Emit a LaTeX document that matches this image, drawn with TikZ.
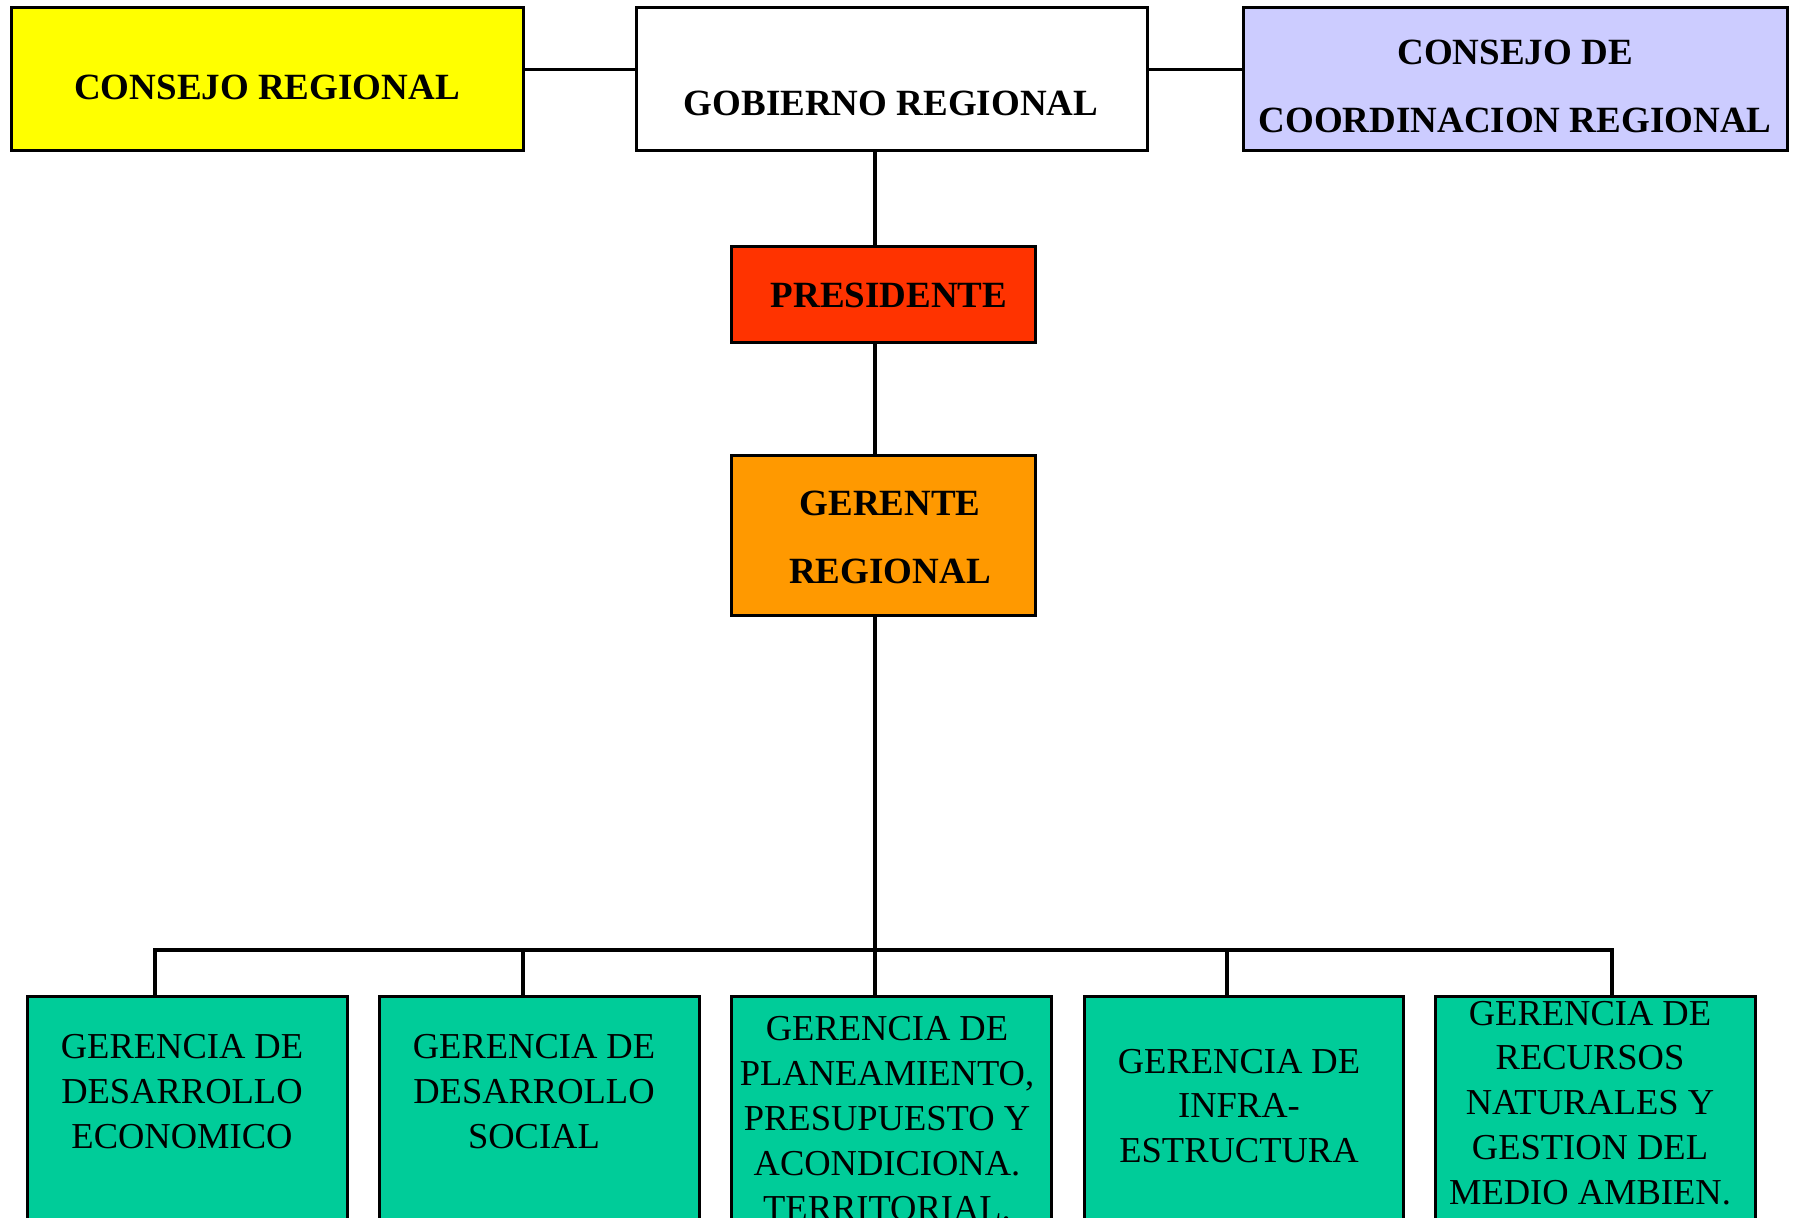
\documentclass[tikz,border=0pt]{standalone}
\usepackage{fontspec}
\setmainfont{Liberation Serif}
\usetikzlibrary{fit}
\definecolor{cyel}{HTML}{FFFF00}
\definecolor{clav}{HTML}{CCCCFF}
\definecolor{cred}{HTML}{FF3300}
\definecolor{cora}{HTML}{FF9900}
\definecolor{cgrn}{HTML}{00CC99}
\tikzset{
  box/.style={rectangle, draw=black, line width=1.5pt, inner sep=0pt, outer sep=0pt},
  conn/.style={draw=black, line width=1.7pt, line join=miter},
  btxt/.style={anchor=base, inner sep=0pt, font=\fontsize{18.5pt}{22.5pt}\selectfont\bfseries},
  gtxt/.style={anchor=base, inner sep=0pt, font=\fontsize{18.25pt}{22.5pt}\selectfont}
}
\begin{document}
\begin{tikzpicture}[x=0.5pt, y=-0.5pt]
\useasboundingbox (0,0) rectangle (1796,1217);
\clip (0,0) rectangle (1796,1217);
% top row
\node[box, fill=cyel, fit={(11,7) (523,150)}] (cr) {};
\node[box, fill=white, fit={(636,7) (1147,150)}] (gob) {};
\node[box, fill=clav, fit={(1243,7) (1787,150)}] (ccr) {};
\node[box, fill=cred, fit={(731,246) (1035,342)}] (pres) {};
\node[box, fill=cora, fit={(731,455) (1035,615)}] (ger) {};
% bottom row
\node[box, fill=cgrn, fit={(27,996) (347,1260)}] (g1) {};
\node[box, fill=cgrn, fit={(379,996) (699,1260)}] (g2) {};
\node[box, fill=cgrn, fit={(731,996) (1051,1260)}] (g3) {};
\node[box, fill=cgrn, fit={(1084,996) (1403,1260)}] (g4) {};
\node[box, fill=cgrn, fit={(1435,996) (1755,1260)}] (g5) {};
% texts
\node[btxt] (crt) at (267,99) {CONSEJO REGIONAL};
\node[btxt] (gobt) at (891,115) {GOBIERNO REGIONAL};
\node[btxt] (ccrt1) at (1515,64) {CONSEJO DE};
\node[btxt] (ccrt2) at (1515,132) {COORDINACION REGIONAL};
\node[btxt] (prest) at (889,307) {PRESIDENTE};
\node[btxt] (gert1) at (890,515) {GERENTE};
\node[btxt] (gert2) at (890,583) {REGIONAL};
\foreach \t [count=\i from 0] in {GERENCIA DE, DESARROLLO, ECONOMICO}
  \node[gtxt] (g1t\i) at (182,1058+45*\i) {\t};
\foreach \t [count=\i from 0] in {GERENCIA DE, DESARROLLO, SOCIAL}
  \node[gtxt] (g2t\i) at (534,1058+45*\i) {\t};
\foreach \t [count=\i from 0] in {GERENCIA DE, {PLANEAMIENTO,}, PRESUPUESTO Y, ACONDICIONA., TERRITORIAL.}
  \node[gtxt] (g3t\i) at (887,1040+45*\i) {\t};
\foreach \t [count=\i from 0] in {GERENCIA DE, INFRA-, ESTRUCTURA}
  \node[gtxt] (g4t\i) at (1239,1073+44.5*\i) {\t};
\foreach \t [count=\i from 0] in {GERENCIA DE, RECURSOS, NATURALES Y, GESTION DEL, MEDIO AMBIEN.}
  \node[gtxt] (g5t\i) at (1590,1025+44.75*\i) {\t};
% connectors
\coordinate (spine) at (875,0);
\coordinate (busL) at (155,950);
\coordinate (busR) at (1612,950);
\coordinate (d2) at (523,950);
\coordinate (d4) at (1227,950);
\draw[conn] ([yshift=4.5pt]cr.east) -- ([yshift=4.5pt]gob.west);
\draw[conn] ([yshift=4.5pt]gob.east) -- ([yshift=4.5pt]ccr.west);
\draw[conn] (gob.south -| spine) -- (pres.north -| spine);
\draw[conn] (pres.south -| spine) -- (ger.north -| spine);
\draw[conn] (ger.south -| spine) -- (g3.north -| spine);
\draw[conn] (g1.north -| busL) -- (busL) -- (busR) -- (g5.north -| busR);
\draw[conn] (d2) -- (g2.north -| d2);
\draw[conn] (d4) -- (g4.north -| d4);
\end{tikzpicture}
\end{document}
